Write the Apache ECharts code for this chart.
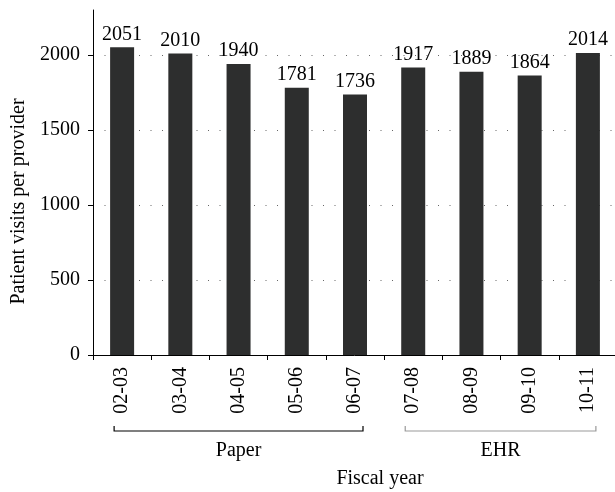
<!DOCTYPE html>
<html>
<head>
<meta charset="utf-8">
<script src="https://cdn.jsdelivr.net/npm/echarts@6/dist/echarts.min.js"></script>
<style>
  html, body { margin: 0; padding: 0; background: #fff; }
  #chart { width: 615px; height: 492px; }
</style>
</head>
<body>
<div id="chart"></div>
<script>
// fiscal years and visits
const years = ['02-03', '03-04', '04-05', '05-06', '06-07', '07-08', '08-09', '09-10', '10-11']
const visits = [2051, 2010, 1940, 1781, 1736, 1917, 1889, 1864, 2014]
const yTicks = [0, 500, 1000, 1500, 2000]
// groups under the x axis: [label, first index, last index, colour]
const groups = [
  ['Paper', 0, 4, '#000'],
  ['EHR', 5, 8, '#999'],
]

const font = 'Liberation Serif'
const chart = echarts.init(document.getElementById('chart'))

chart.setOption({
  animation: false,
  textStyle: { fontFamily: font },
  grid: { left: 93, right: -2, top: 10, bottom: 137, outerBoundsMode: 'none' },
  xAxis: {
    type: 'category',
    data: years,
    name: 'Fiscal year',
    nameLocation: 'middle',
    nameGap: 114,
    nameTextStyle: { fontSize: 20, color: '#000', fontFamily: font, padding: [0, 0, 0, 50] },
    axisLine: { lineStyle: { color: '#000', width: 1 } },
    axisTick: { show: true, length: 5, lineStyle: { color: '#000' } },
    axisLabel: { rotate: 90, fontSize: 20, color: '#000', margin: 12, fontFamily: font },
  },
  yAxis: {
    type: 'value',
    min: 0,
    max: 2300,
    interval: 500,
    name: 'Patient visits per provider',
    nameLocation: 'middle',
    nameGap: 64,
    nameTextStyle: { fontSize: 20, color: '#000', fontFamily: font, padding: [0, 38, 0, 0] },
    axisLine: { show: true, lineStyle: { color: '#000' } },
    axisTick: { show: true, length: 5, lineStyle: { color: '#000' }, customValues: yTicks },
    axisLabel: {
      fontSize: 20, color: '#000', margin: 13, fontFamily: font, customValues: yTicks,
      formatter: v => String(v),
    },
    splitLine: { show: true, lineStyle: { color: '#666', type: [1, 10.5], width: 1 } },
  },
  series: [{
    type: 'bar',
    data: visits,
    barWidth: 24,
    itemStyle: { color: '#2d2e2e' },
    label: { show: true, position: 'top', distance: 3, fontSize: 20, color: '#000', fontFamily: font },
  }],
})

// brackets for the Paper / EHR groups
const baseY = chart.convertToPixel({ yAxisIndex: 0 }, 0)
const elems = []
groups.forEach(([name, a, b, color]) => {
  const x1 = chart.convertToPixel({ xAxisIndex: 0 }, a) - 8
  const x2 = chart.convertToPixel({ xAxisIndex: 0 }, b) + 8
  const y = baseY + 76
  elems.push({
    type: 'polyline',
    shape: { points: [[x1, y - 5], [x1, y], [x2, y], [x2, y - 5]] },
    style: { stroke: color, lineWidth: 1.2, fill: null },
  })
  elems.push({
    type: 'text',
    x: (x1 + x2) / 2,
    y: y + 20,
    style: { text: name, fontSize: 20, fontFamily: font, fill: '#000', align: 'center', verticalAlign: 'middle' },
  })
})
chart.setOption({ graphic: elems })
</script>
</body>
</html>
